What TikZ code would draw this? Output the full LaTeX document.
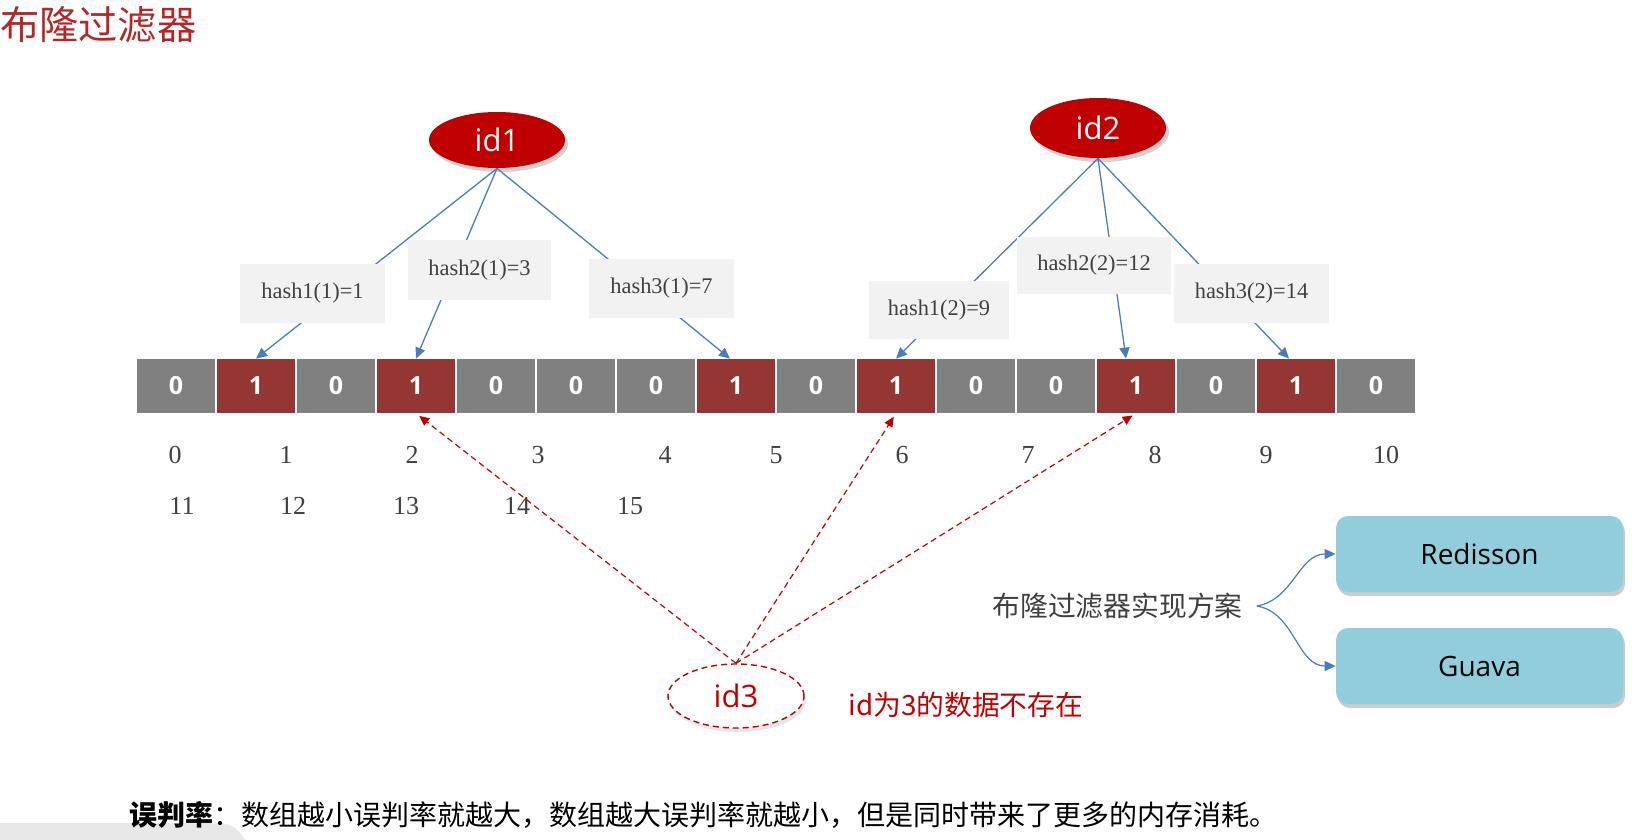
\documentclass[tikz,border=0pt]{standalone}
\usepackage{fontspec}
\setmainfont{Liberation Serif}
\setsansfont{Open Sans}
\newfontfamily\cjk{Noto Sans CJK SC}
\usetikzlibrary{shapes.geometric,shadows,arrows.meta,calc}
\definecolor{cellgray}{RGB}{128,128,128}
\definecolor{cellred}{RGB}{148,54,52}
\definecolor{idred}{RGB}{192,0,0}
\definecolor{titlered}{RGB}{178,40,40}
\definecolor{arrowblue}{RGB}{74,126,187}
\definecolor{hashbg}{RGB}{242,242,242}
\definecolor{boxblue}{RGB}{146,205,220}
\definecolor{textgray}{RGB}{64,64,64}
\begin{document}
\begin{tikzpicture}[x=0.5pt,y=-0.5pt,
  cellbox/.style={minimum width=39pt,minimum height=27pt,inner sep=0pt,text=white,
     font=\sffamily\bfseries\fontsize{12.5}{12.5}\selectfont},
  zerocell/.style={cellbox,fill=cellgray},
  onecell/.style={cellbox,fill=cellred},
  idnode/.style={ellipse,minimum width=68pt,minimum height=28pt,inner sep=0pt,
     fill=idred,text=white,font=\sffamily\fontsize{15.5}{15.5}\selectfont,
     drop shadow={opacity=0.35,shadow xshift=1.5pt,shadow yshift=-2pt}},
  hashbox/.style={fill=hashbg,inner sep=0pt,text=textgray,font=\fontsize{11.2}{11.2}\selectfont},
  idxlabel/.style={text=textgray,font=\fontsize{13}{13}\selectfont,inner sep=0pt},
  bluearrow/.style={draw=arrowblue,line width=0.65pt,-{Triangle[length=5.5pt,width=5pt]}},
  redarrow/.style={draw=idred,line width=0.6pt,dash pattern=on 3pt off 2pt,
     -{Triangle[length=5pt,width=4.5pt]},shorten >=2pt},
  implbox/.style={rounded corners=6pt,fill=boxblue,minimum width=143.5pt,minimum height=38pt,
     inner sep=0pt,font=\sffamily\fontsize{14}{14}\selectfont,
     drop shadow={opacity=0.4,shadow xshift=1pt,shadow yshift=-2pt}}
]
\useasboundingbox (0,0) rectangle (1649,840);
% bottom-left artifact
\fill[gray!18,rounded corners=14pt] (-40,823) rectangle (247,880);

% title
\node[anchor=west,inner sep=0pt,text=titlered,font=\cjk\fontsize{19.6}{19.6}\selectfont] (title) at (0,25) {布隆过滤器};

% cells
\foreach \v [count=\i from 0] in {0,1,0,1,0,0,0,1,0,1,0,0,1,0,1,0}{
  \ifnum\v=1
    \node[onecell] (c\i) at (176+80*\i,386) {1};
  \else
    \node[zerocell] (c\i) at (176+80*\i,386) {0};
  \fi
}

% index labels
\foreach \n/\x in {0/175,1/286,2/412,3/538,4/665,5/776,6/902,7/1028,8/1155,9/1266,10/1386}{
  \node[idxlabel] (i\n) at (\x,455) {\n};
}
\foreach \n/\x in {11/182,12/293,13/406,14/517,15/630}{
  \node[idxlabel] (i\n) at (\x,506) {\n};
}

% id ellipses
\node[idnode] (id1) at (497,140) {id1};
\node[idnode,minimum height=30pt] (id2) at (1098,128) {id2};

% blue arrows (behind hash boxes)
\draw[bluearrow] (id1.south) -- (c1.north);
\draw[bluearrow] (id1.south) -- (c3.north);
\draw[bluearrow] (id1.south) -- ($(c7.north)+(-6,0)$);
\draw[bluearrow] (id2.south) -- (c9.north);
\draw[bluearrow] (id2.south) -- ($(c12.north)+(-10,0)$);
\draw[bluearrow] (id2.south) -- ($(c14.north)+(-7,0)$);

% hash boxes
\node[hashbox,minimum width=72.5pt,minimum height=29.5pt] (h11) at (312.5,293.5) {hash1(1)=1};
\node[hashbox,minimum width=71.5pt,minimum height=30pt] (h21) at (479.5,270) {hash2(1)=3};
\node[hashbox,minimum width=72.5pt,minimum height=29.5pt] (h31) at (661.5,288.5) {hash3(1)=7};
\node[hashbox,minimum width=70pt,minimum height=29pt] (h12) at (939,310) {hash1(2)=9};
\node[hashbox,minimum width=77pt,minimum height=28.5pt] (h22) at (1094,265.5) {hash2(2)=12};
\node[hashbox,minimum width=77.5pt,minimum height=29.5pt] (h32) at (1251.5,293.5) {hash3(2)=14};

% id3
\node[ellipse,draw=idred,line width=0.7pt,dash pattern=on 3pt off 2pt,fill=white,
  minimum width=68pt,minimum height=32pt,inner sep=0pt,text=idred,
  font=\sffamily\fontsize{15.5}{15.5}\selectfont,
  drop shadow={opacity=0.2,shadow xshift=1pt,shadow yshift=-2pt}] (id3) at (736,696) {id3};
\draw[redarrow] (id3.north) -- (c3.south);
\draw[redarrow] (id3.north) -- (c9.south);
\draw[redarrow] (id3.north) -- (c12.south);

\node[anchor=west,inner sep=0pt,text=idred,font=\cjk\fontsize{13.9}{13.9}\selectfont] (msg) at (848,705) {id为3的数据不存在};

% implementations
\node[anchor=west,inner sep=0pt,text=textgray,font=\cjk\fontsize{13.9}{13.9}\selectfont] (impl) at (992,606) {布隆过滤器实现方案};
\node[implbox] (red) at (1479.5,554) {Redisson};
\node[implbox] (gua) at (1479.5,666) {Guava};
\draw[bluearrow,line width=0.6pt] ($(impl.east)+(14,0)$) to[out=10,in=180] (red.west);
\draw[bluearrow,line width=0.6pt] ($(impl.east)+(14,0)$) to[out=-10,in=180] (gua.west);

% bottom note
\node[anchor=west,inner sep=0pt,font=\cjk\fontsize{14}{14}\selectfont] (note) at (129,815)
  {{\bfseries 误判率}：数组越小误判率就越大，数组越大误判率就越小，但是同时带来了更多的内存消耗。};
\end{tikzpicture}
\end{document}
